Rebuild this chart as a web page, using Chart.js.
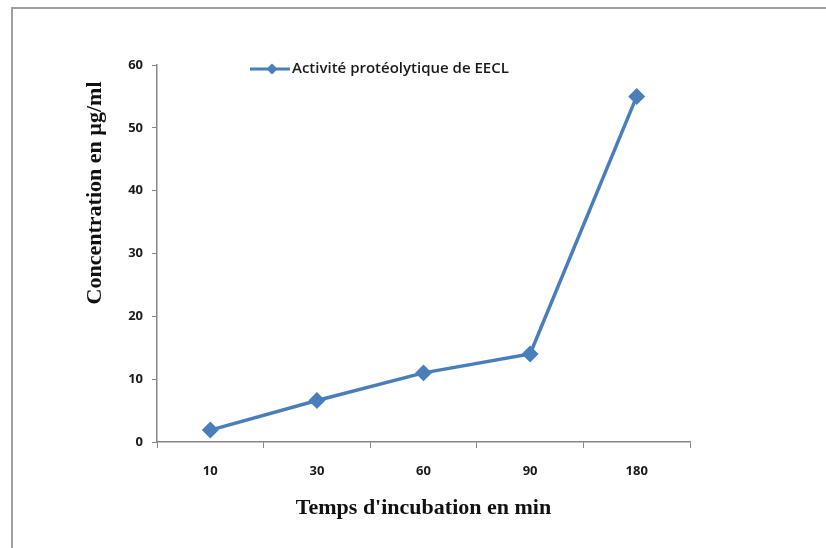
<!DOCTYPE html>
<html>
<head>
<meta charset="utf-8">
<script src="https://cdn.jsdelivr.net/npm/chart.js@4"></script>
<style>
  html, body { margin: 0; padding: 0; background: #fff; }
  #wrap { position: relative; width: 826px; height: 548px; overflow: hidden; }
  #frame { position: absolute; left: 11px; top: 7px; width: 900px; height: 600px;
           border-left: 2px solid #a0a0a0; border-top: 2px solid #a0a0a0; }
  #chart { position: absolute; left: 0; top: 0; }
</style>
</head>
<body>
<div id="wrap">
  <div id="frame"></div>
  <canvas id="chart" width="826" height="548"></canvas>
</div>
<script>
const temps = ["10", "30", "60", "90", "180"];
const concentration = [1.9, 6.6, 11, 14, 55];
const serieNom = "Activité protéolytique de EECL";
const bleu = "#4a7ebb";

// legende dessinee dans la zone du graphique (ligne + losange)
const legendeInterne = {
    id: "legendeInterne",
    afterDraw(chart) {
        const { ctx, chartArea } = chart;
        const x = chartArea.left + 93;
        const y = chartArea.top + 4;
        ctx.save();
        ctx.strokeStyle = bleu;
        ctx.lineWidth = 3;
        ctx.beginPath();
        ctx.moveTo(x, y);
        ctx.lineTo(x + 40, y);
        ctx.stroke();
        ctx.fillStyle = bleu;
        ctx.beginPath();
        ctx.moveTo(x + 22, y - 5.5);
        ctx.lineTo(x + 27.5, y);
        ctx.lineTo(x + 22, y + 5.5);
        ctx.lineTo(x + 16.5, y);
        ctx.closePath();
        ctx.fill();
        ctx.fillStyle = "#1a1a1a";
        ctx.font = "600 15px 'Open Sans'";
        ctx.textBaseline = "middle";
        ctx.fillText(serieNom, x + 42, y);
        ctx.restore();
    },
};

new Chart(document.getElementById("chart"), {
    type: "line",
    data: {
        labels: temps,
        datasets: [
            {
                label: serieNom,
                data: concentration,
                borderColor: bleu,
                backgroundColor: bleu,
                borderWidth: 3.5,
                pointStyle: "rectRot",
                pointRadius: 6,
                pointHoverRadius: 6,
                tension: 0,
            },
        ],
    },
    options: {
        responsive: false,
        animation: false,
        layout: {
            padding: { left: 0, top: 65, right: 136, bottom: 0 },
        },
        plugins: {
            legend: { display: false },
            tooltip: { enabled: false },
        },
        scales: {
            x: {
                offset: true,
                grid: {
                    offset: true,
                    drawOnChartArea: false,
                    drawTicks: true,
                    tickLength: 6,
                    color: "#868686",
                },
                border: { color: "#868686", width: 1.5 },
                ticks: {
                    color: "#1a1a1a",
                    font: { family: "'Open Sans'", size: 13, weight: "bold" },
                    padding: 15,
                },
                title: {
                    display: true,
                    text: "Temps d'incubation en min",
                    color: "#111",
                    font: { family: "'Liberation Serif'", size: 22, weight: "bold" },
                    padding: { top: 4, bottom: 26 },
                },
                afterFit(scale) {
                    scale.height = 106;
                },
            },
            y: {
                min: 0,
                max: 60,
                ticks: {
                    stepSize: 10,
                    color: "#1a1a1a",
                    font: { family: "'Open Sans'", size: 13, weight: "bold" },
                    padding: 9,
                },
                grid: {
                    drawOnChartArea: false,
                    drawTicks: true,
                    tickLength: 5,
                    color: "#868686",
                },
                border: { color: "#868686", width: 1.5 },
                title: {
                    display: true,
                    align: "end",
                    text: "Concentration en µg/ml   ",
                    color: "#111",
                    font: { family: "'Liberation Serif'", size: 22, weight: "bold" },
                    padding: { top: 82, bottom: 4 },
                },
                afterFit(scale) {
                    scale.width = 157;
                },
            },
        },
    },
    plugins: [legendeInterne],
});
</script>
</body>
</html>
